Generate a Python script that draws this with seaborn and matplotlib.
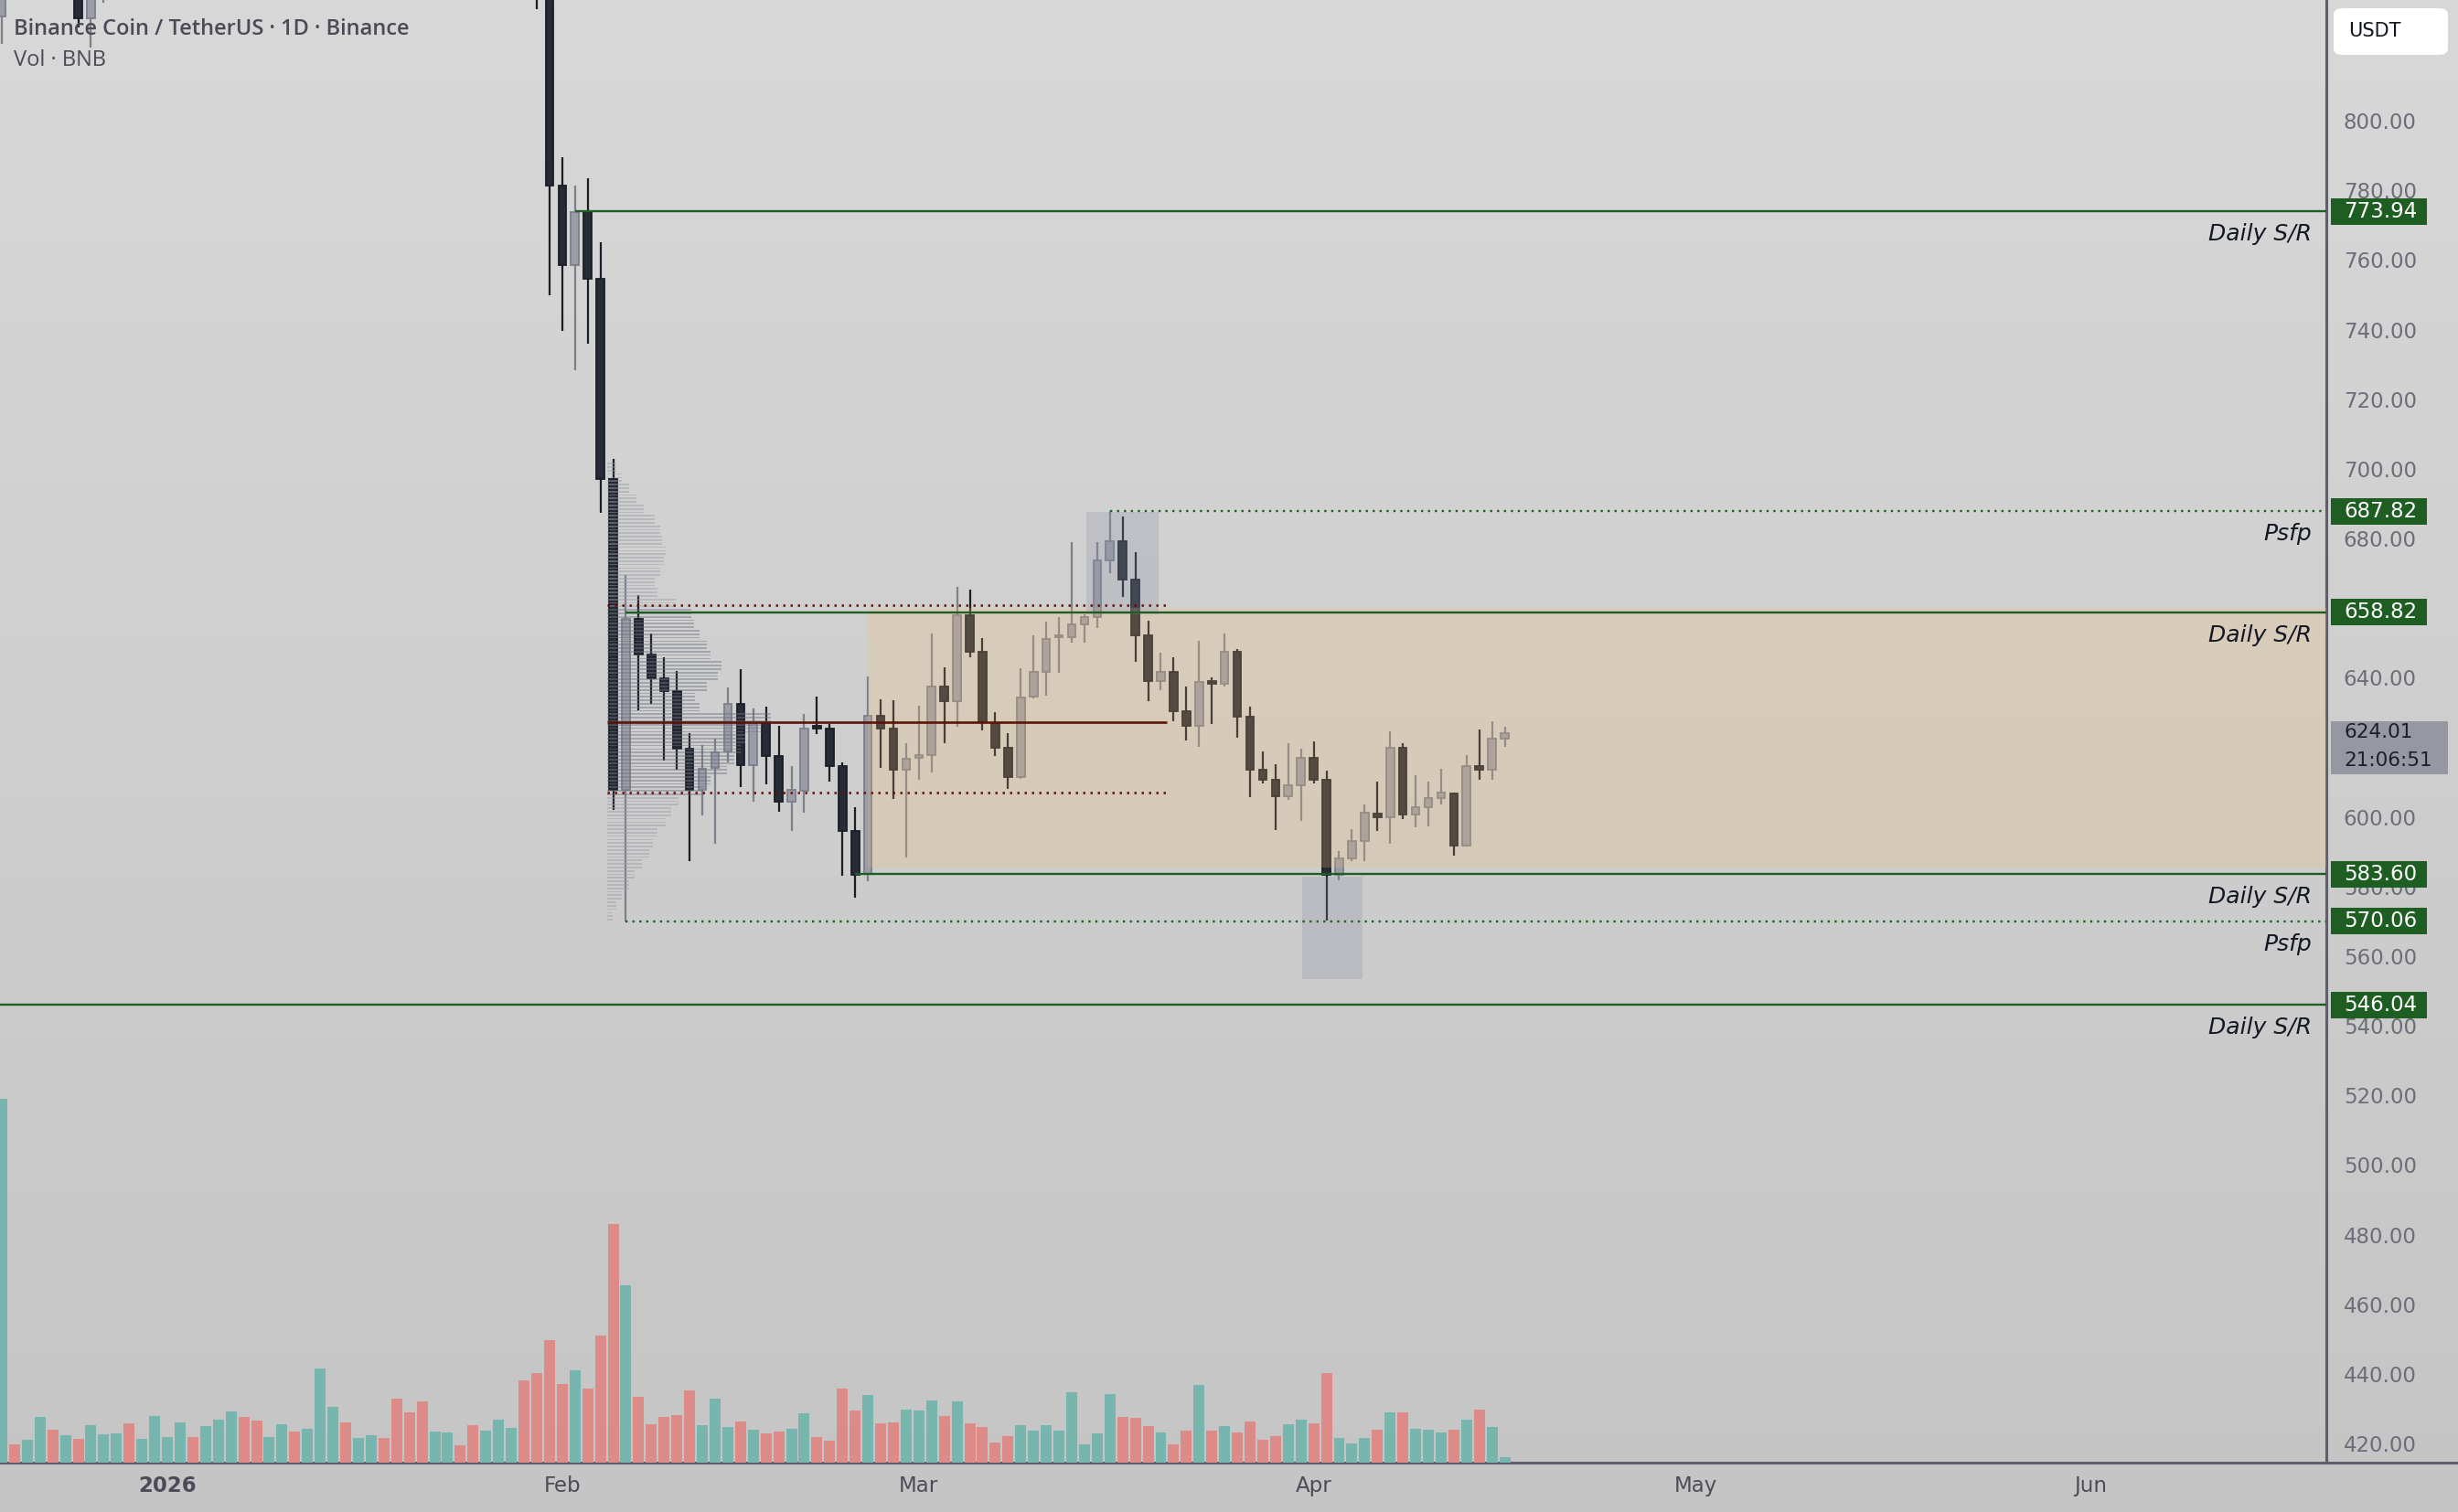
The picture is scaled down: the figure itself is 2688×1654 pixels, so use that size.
import matplotlib
matplotlib.use("Agg")
import matplotlib.pyplot as plt
import matplotlib.dates as mdates
from matplotlib.patches import Rectangle, FancyBboxPatch
from matplotlib.colors import LinearSegmentedColormap
import seaborn as sns
import numpy as np
import pandas as pd

# ---- daily candles BNB/USDT (19 Dec 2025 .. 16 Apr 2026) ----
dates = pd.date_range("2025-12-19", periods=119, freq="D")

opens = [830.0, 852, 846, 852, 866, 852, 856, 829.4, 840, 844, 848, 840, 850,
         862, 868, 880, 872, 882, 896, 906, 892, 882, 888, 894, 886, 894, 930, 944, 932, 938, 944,
         934, 908, 884, 872, 882, 888, 884, 864, 874, 886, 890, 858, 842,
         781.3, 758.5, 773.7, 754.6, 697.0, 607.8, 657.0, 646.6, 639.8, 636.1, 619.6, 607.9, 614.1,
         618.7, 632.6, 614.8, 627.0, 617.4, 604.4, 607.5, 626.0, 625.3, 614.5, 596.1, 583.5, 629.1,
         625.5, 613.6,
         617.0, 617.8, 637.5, 633.3, 657.9, 647.5, 627.0, 620.0, 611.6, 634.6, 641.8, 651.6, 651.7,
         655.4, 657.3, 673.6, 679.3, 668.3, 652.1, 639.0, 641.7, 630.5, 626.2, 638.9, 638.3, 647.4,
         628.7, 613.7, 610.8, 605.9, 609.0,
         617.1, 610.6, 583.4, 588.0, 593.1, 601.0, 599.8, 619.8, 600.8, 602.7, 605.3, 606.8, 591.9,
         614.5, 613.7, 622.4]
highs = [858, 860, 858, 872, 870, 862, 860, 845, 848, 852, 856, 854, 866,
         872, 884, 884, 886, 900, 912, 910, 896, 892, 898, 898, 900, 936, 950, 948, 942, 948, 948,
         938, 912, 892, 888, 894, 892, 888, 880, 890, 896, 894, 866, 848,
         789.5, 781.4, 783.5, 765.0, 702.8, 669.5, 663.7, 652.7, 645.8, 641.9, 624.0, 620.6, 622.6,
         637.2, 642.4, 631.2, 631.6, 626.3, 614.5, 629.6, 634.6, 626.6, 615.8, 602.7, 640.3, 633.7,
         633.4, 621.3,
         631.9, 652.6, 643.1, 666.1, 665.2, 651.3, 630.1, 624.0, 642.6, 652.2, 656.1, 657.4, 679.0,
         658.2, 678.9, 687.8, 686.3, 676.2, 656.3, 647.3, 646.0, 637.5, 650.5, 640.0, 652.6, 648.2,
         631.6, 618.7, 615.1, 621.1, 619.5,
         621.7, 613.2, 590.2, 596.5, 603.7, 610.1, 624.6, 621.1, 611.9, 610.1, 613.8, 607.1, 617.8,
         625.0, 627.4, 625.9]
lows = [822.0, 842, 840, 848, 848, 844, 826.8, 821.0, 834, 838, 836, 837, 846,
        856, 864, 868, 868, 878, 890, 888, 876, 876, 884, 880, 880, 890, 922, 926, 926, 934, 928,
        900, 878, 864, 866, 876, 878, 858, 858, 870, 880, 850, 832, 749.8,
        739.6, 728.4, 735.9, 687.3, 602.0, 570.06, 630.6, 632.4, 616.2, 613.7, 587.2, 600.5, 592.4,
        615.6, 608.6, 604.4, 609.3, 601.4, 595.9, 601.1, 623.9, 610.1, 583.0, 576.9, 581.4, 614.2,
        605.2, 588.4,
        610.7, 612.9, 621.1, 625.9, 646.0, 624.8, 617.6, 608.0, 611.0, 634.0, 634.9, 641.5, 650.1,
        650.1, 654.3, 670.1, 663.3, 644.5, 633.3, 636.3, 627.6, 622.1, 620.2, 626.8, 637.5, 622.8,
        605.8, 609.7, 596.3, 605.0, 598.8,
        609.5, 570.3, 581.9, 587.2, 587.2, 596.1, 592.2, 599.5, 596.9, 597.4, 603.6, 588.9, 591.5,
        610.8, 610.6, 620.2]
closes = [852, 846, 852, 866, 852, 856, 829.4, 840, 844, 848, 840, 850, 862,
          868, 880, 872, 882, 896, 906, 892, 882, 888, 894, 886, 894, 930, 944, 932, 938, 944, 934,
          908, 884, 872, 882, 888, 884, 864, 874, 886, 890, 858, 842, 781.3,
          758.5, 773.7, 754.6, 697.0, 607.8, 657.0, 646.6, 639.8, 636.1, 619.6, 607.9, 613.8, 618.6,
          632.6, 615.0, 627.0, 617.4, 604.4, 607.7, 625.5, 625.5, 614.5, 596.1, 583.3, 629.1, 625.5,
          613.6, 616.8,
          617.8, 637.5, 633.3, 657.9, 647.5, 627.4, 620.0, 611.6, 634.4, 641.7, 651.2, 652.2, 655.4,
          657.3, 673.6, 679.3, 668.3, 652.1, 639.0, 641.7, 630.5, 626.2, 638.9, 638.3, 647.4, 628.7,
          613.7, 610.8, 605.9, 609.0, 617.1,
          610.6, 583.4, 588.0, 593.1, 601.1, 599.9, 619.8, 600.8, 602.7, 605.3, 606.9, 591.9, 614.5,
          613.5, 622.4, 624.01]
# volume in K BNB
volumes = [398, 20, 25, 50, 36, 30, 26, 41, 31, 32, 43, 26, 51,
           28, 44, 28, 40, 47, 56, 50, 46, 28, 42, 34, 37, 103, 61, 44, 27, 30, 27,
           70, 55, 67, 34, 33, 19, 41, 35, 47, 38, 90, 98, 134,
           86, 101, 81, 139, 261, 194, 72, 42, 50, 52, 79, 41, 70,
           39, 45, 36, 32, 34, 37, 54, 28, 24, 81, 57, 74, 43,
           44, 58,
           57, 68, 51, 67, 43, 39, 22, 29, 41, 35, 41, 35, 77,
           20, 32, 75, 50, 49, 40, 33, 20, 35, 85, 35, 40, 33,
           45, 25, 29, 42, 47,
           43, 98, 27, 21, 27, 36, 55, 55, 37, 36, 33, 36, 47,
           58, 39, 6]

# ---- drawings ----
sr_levels = [773.94, 658.82, 583.60, 546.04]
sr_starts = ["2026-02-02", "2026-02-06", "2026-02-24", "2025-12-01"]
psfp_levels = [687.82, 570.06]
psfp_starts = ["2026-03-16", "2026-02-06"]
range_start = "2026-02-25"
range_low, range_high = 585.4, 660.0
hl_starts = ["2026-03-14 03:20", "2026-03-31 01:40"]
hl_ends = ["2026-03-19 19:30", "2026-04-04 19:10"]
hl_lows = [658.3, 553.4]
hl_highs = [687.7, 582.8]

# fixed range volume profile
vp_start, vp_end = "2026-02-04 12:00", "2026-03-20 12:00"
vp_poc, vp_vah, vp_val = 627.3, 660.9, 607.1
vp_prices = [571.5, 574.5, 577.5, 580.5, 583.5, 586.5, 589.5, 592.5, 595.5, 598.5, 601.5,
             604.5, 607.5, 610.5, 613.5, 616.5, 619.5, 622.5, 625.5, 628.5, 631.5, 634.5,
             637.5, 640.5, 643.5, 646.5, 649.5, 652.5, 655.5, 658.5, 661.5, 664.5, 667.5,
             670.5, 673.5, 676.5, 679.5, 682.5, 685.5, 688.5, 691.5, 694.5, 697.5, 700.5]
vp_volume = [6, 10, 16, 24, 30, 38, 46, 50, 55, 64, 70, 78, 105, 112, 130, 138, 145, 150,
             168, 178, 100, 96, 108, 120, 124, 112, 108, 100, 95, 92, 75, 55, 52, 58, 62, 64,
             60, 58, 52, 40, 32, 24, 16, 10]

last_price = 624.01
countdown = "21:06:51"
price_ticks = list(range(420, 801, 20))
hidden_ticks = [620]          # covered by the last-price tag
month_ticks = ["2026-01-01", "2026-02-01", "2026-03-01", "2026-04-01", "2026-05-01", "2026-06-01"]
month_labels = ["2026", "Feb", "Mar", "Apr", "May", "Jun"]

# ---- style ----
sns.set_theme(style="white")
plt.rcParams["font.family"] = ["DejaVu Sans"]

GREEN = "#1f5e23"
DARKRED = "#5b140a"
AXIS = "#5d606b"

df = pd.DataFrame({"date": dates, "open": opens, "high": highs, "low": lows,
                   "close": closes, "volume": volumes})
df["x"] = mdates.date2num(df["date"])
df["up"] = df["close"] >= df["open"]

W, H = 2688, 1654
fig = plt.figure(figsize=(W / 100, H / 100), dpi=100)

# background gradient
bg = fig.add_axes([0, 0, 1, 1], zorder=-10)
cmap = LinearSegmentedColormap.from_list("bg", ["#d8d8d8", "#c5c5c5"])
bg.imshow(np.linspace(0, 1, 256).reshape(-1, 1), aspect="auto", cmap=cmap,
          extent=[0, 1, 0, 1])
bg.set_axis_off()

ax = fig.add_axes([0, 54 / H, 2544 / W, 1600 / H])
ax.patch.set_alpha(0)
x_left = mdates.date2num(pd.Timestamp("2025-12-19")) - 0.14
x_right = mdates.date2num(pd.Timestamp("2026-01-01")) + 169.5
ax.set_xlim(x_left, x_right)
ax.set_ylim(414.5, 834.7)

# volume on twin axis
ax2 = ax.twinx()
ax2.patch.set_alpha(0)
ax2.bar(df["x"], df["volume"], width=0.86,
        color=np.where(df["up"], "#76b6af", "#dd8b89"), zorder=2, linewidth=0)
ax2.set_ylim(0, max(volumes) * 4.02)
ax2.set_axis_off()

# candles
wick_col = np.where(df["up"], "#7d808b", "#1b1e27")
fill_col = np.where(df["up"], "#9a9ca6", "#272b36")
ax.vlines(df["x"], df["low"], df["high"], colors=wick_col, linewidth=1.6, zorder=2)
body_lo = np.minimum(df["open"], df["close"])
body_h = np.maximum((df["close"] - df["open"]).abs(), 0.7)
ax.bar(df["x"], body_h, bottom=body_lo, width=0.62, color=fill_col,
       edgecolor=wick_col, linewidth=1.3, zorder=3)

# range box and highlights
rs = mdates.date2num(pd.Timestamp(range_start))
ax.add_patch(Rectangle((rs, range_low), x_right - rs, range_high - range_low,
                       facecolor="#f6bd70", alpha=0.22, linewidth=0, zorder=4))
for s, e, lo, hi in zip(hl_starts, hl_ends, hl_lows, hl_highs):
    s0 = mdates.date2num(pd.Timestamp(s))
    e0 = mdates.date2num(pd.Timestamp(e))
    ax.add_patch(Rectangle((s0, lo), e0 - s0, hi - lo, facecolor="#8c93a8",
                           alpha=0.27, linewidth=0, zorder=4))

# volume profile (thin rows)
v0 = mdates.date2num(pd.Timestamp(vp_start))
v1 = mdates.date2num(pd.Timestamp(vp_end))
vp_w = np.array(vp_volume) / max(vp_volume) * 12.9
vp_p = np.array(vp_prices)
in_va = (vp_p >= vp_val) & (vp_p <= vp_vah)
for off in (-1.0, 0.0, 1.0):
    ax.barh(vp_p + off, vp_w, left=v0, height=0.45,
            color=np.where(in_va, "#6f7382", "#9a9da6"), alpha=0.45, linewidth=0, zorder=4)
ax.hlines(vp_poc, v0, v1, color=DARKRED, linewidth=1.9, zorder=5)
ax.hlines([vp_vah, vp_val], v0, v1, color=DARKRED, linewidth=1.8,
          linestyles=(0, (1, 2.2)), zorder=5)

# support / resistance lines
ytr = ax.get_yaxis_transform()
for lvl, st in zip(sr_levels, sr_starts):
    ax.hlines(lvl, mdates.date2num(pd.Timestamp(st)), x_right, color=GREEN,
              linewidth=1.7, zorder=5)
    ax.text(0.9937, lvl - 6.6, "Daily S/R", transform=ytr, ha="right", va="center",
            fontsize=18, style="italic", color="#131722", zorder=6)
for lvl, st in zip(psfp_levels, psfp_starts):
    ax.hlines(lvl, mdates.date2num(pd.Timestamp(st)), x_right, color=GREEN,
              linewidth=1.7, linestyles=(0, (1, 2.2)), zorder=5)
    ax.text(0.9937, lvl - 6.6, "Psfp", transform=ytr, ha="right", va="center",
            fontsize=18, style="italic", color="#131722", zorder=6)

# price scale
ax.yaxis.tick_right()
ax.set_yticks(price_ticks)
ax.set_yticklabels(["" if v in hidden_ticks else f"{v:.2f}" for v in price_ticks])
ax.tick_params(axis="y", length=0, pad=13.5, labelsize=16.5, labelcolor="#6b6e79")

for lvl in sr_levels + psfp_levels:
    ax.add_patch(Rectangle((1.002, lvl - 3.8), 0.0413, 7.6, transform=ytr,
                           facecolor=GREEN, edgecolor="none", clip_on=False, zorder=10))
    ax.text(1.0075, lvl, f"{lvl:.2f}", transform=ytr, ha="left", va="center",
            fontsize=16.5, color="white", clip_on=False, zorder=11)
ax.add_patch(Rectangle((1.002, last_price - 11.8), 0.0503, 15.4, transform=ytr,
                       facecolor="#9598a3", edgecolor="none", clip_on=False, zorder=10))
ax.text(1.0075, last_price + 0.3, f"{last_price:.2f}", transform=ytr, ha="left",
        va="center", fontsize=15.5, color="#1d1f26", clip_on=False, zorder=11)
ax.text(1.0075, last_price - 7.9, countdown, transform=ytr, ha="left",
        va="center", fontsize=15.5, color="#1d1f26", clip_on=False, zorder=11)

# time scale
ax.set_xticks(mdates.date2num(pd.to_datetime(month_ticks)))
ax.set_xticklabels(month_labels)
ax.tick_params(axis="x", length=0, pad=10, labelsize=16.5, labelcolor="#4b4c58")
ax.get_xticklabels()[0].set_fontweight("bold")
ax.grid(False)
sns.despine(ax=ax, left=True, top=True, right=False, bottom=False)
for sp in ("bottom", "right"):
    ax.spines[sp].set_color(AXIS)
    ax.spines[sp].set_linewidth(2.2)
fig.add_artist(plt.Line2D([2544 / W, 1], [54 / H, 54 / H], color=AXIS, linewidth=2.2))

# header and currency box
fig.text(15 / W, 1 - 32 / H, "Binance Coin / TetherUS · 1D · Binance", fontsize=17,
         fontweight="semibold", color="#4a4b57", va="center", family=["Open Sans", "DejaVu Sans"])
fig.text(15 / W, 1 - 66 / H, "Vol · BNB", fontsize=17, color="#4a4b57", va="center",
         family=["Open Sans", "DejaVu Sans"])
fig.add_artist(FancyBboxPatch((2552 / W, 1 - 60 / H), 125 / W, 51 / H,
                              boxstyle="round,pad=0,rounding_size=0.004",
                              facecolor="white", edgecolor="none", transform=fig.transFigure))
fig.text(2568 / W, 1 - 34 / H, "USDT", fontsize=15, color="#131722", va="center")

fig.savefig("out.png", dpi=100)
